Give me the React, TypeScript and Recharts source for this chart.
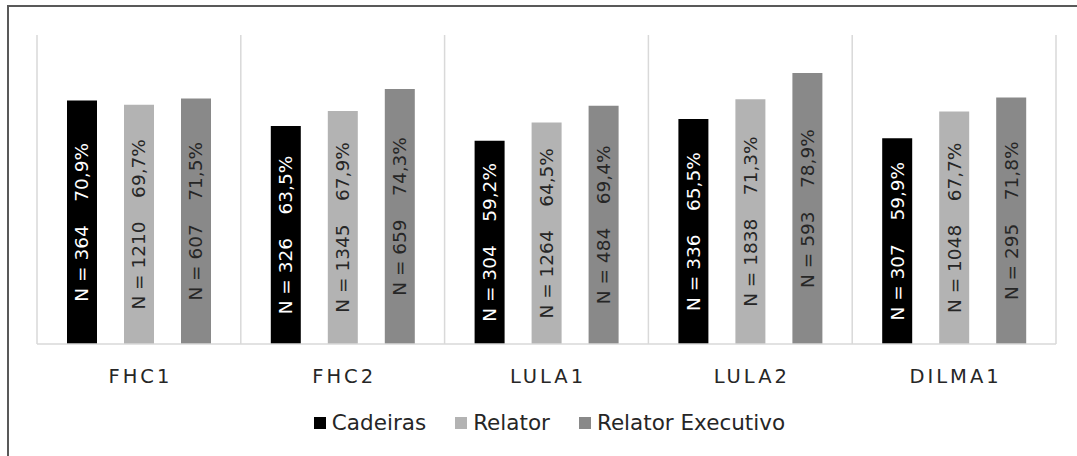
import React from 'react';
import { BarChart, Bar, XAxis, YAxis, CartesianGrid, LabelList } from 'recharts';

const categories = ['FHC1', 'FHC2', 'LULA1', 'LULA2', 'DILMA1'];
const cadeirasPct = [70.9, 63.5, 59.2, 65.5, 59.9];
const relatorPct = [69.7, 67.9, 64.5, 71.3, 67.7];
const executivoPct = [71.5, 74.3, 69.4, 78.9, 71.8];
const cadeirasN = [364, 326, 304, 336, 307];
const relatorN = [1210, 1345, 1264, 1838, 1048];
const executivoN = [607, 659, 484, 593, 295];

const series = [
  { key: 'cadeiras', name: 'Cadeiras', color: '#000000', text: '#ffffff' },
  { key: 'relator', name: 'Relator', color: '#b3b3b3', text: '#262626' },
  { key: 'executivo', name: 'Relator Executivo', color: '#898989', text: '#262626' },
];

const FONT = '"DejaVu Sans", Verdana, sans-serif';

const fmt = (n: number, p: number) => `N = ${n}    ${p.toFixed(1).replace('.', ',')}%`;

const data = categories.map((name, i) => ({
  name,
  cadeiras: cadeirasPct[i],
  relator: relatorPct[i],
  executivo: executivoPct[i],
  cadeirasLabel: fmt(cadeirasN[i], cadeirasPct[i]),
  relatorLabel: fmt(relatorN[i], relatorPct[i]),
  executivoLabel: fmt(executivoN[i], executivoPct[i]),
}));

const barLabel = (fill: string) => (props: any) => {
  const { x, y, width, height, value } = props;
  const cx = x + width / 2;
  const cy = y + height / 2;
  return (
    <text
      x={cx}
      y={cy}
      transform={`rotate(-90 ${cx} ${cy})`}
      textAnchor="middle"
      dominantBaseline="central"
      fill={fill}
      fontSize={18.5}
      fontFamily={FONT}
      style={{ whiteSpace: 'pre' }}
    >
      {value}
    </text>
  );
};

const CategoryTick = (props: any) => {
  const { x, y, payload } = props;
  return (
    <text
      x={x}
      y={y + 31}
      dx={1.5}
      textAnchor="middle"
      fill="#262626"
      fontSize={19.5}
      fontFamily={FONT}
      letterSpacing={3}
    >
      {payload.value}
    </text>
  );
};

export default function App() {
  return (
    <div style={{ position: 'absolute', left: 0, top: 0, width: 1077, height: 456, overflow: 'hidden', background: '#fff' }}>
      <div
        style={{
          position: 'absolute',
          left: 7,
          top: 5,
          width: 1120,
          height: 500,
          borderLeft: '2px solid #595959',
          borderTop: '2px solid #595959',
        }}
      />
      <div style={{ position: 'absolute', left: 0, top: 0 }}>
        <BarChart
          width={1077}
          height={456}
          data={data}
          margin={{ top: 35, right: 21, left: 37, bottom: 72 }}
          barSize={30}
          barGap={27}
        >
          <CartesianGrid
            horizontal={false}
            stroke="#d9d9d9"
            strokeWidth={1.5}
            verticalCoordinatesGenerator={({ offset }: any) =>
              categories.map((_, i) => offset.left + (i * offset.width) / categories.length).concat(offset.left + offset.width)
            }
          />
          <XAxis
            dataKey="name"
            axisLine={{ stroke: '#d9d9d9', strokeWidth: 1.5 }}
            tickLine={false}
            height={40}
            tick={<CategoryTick />}
            interval={0}
          />
          <YAxis hide domain={[0, 90]} />
          {series.map((s) => (
            <Bar key={s.key} dataKey={s.key} name={s.name} fill={s.color} isAnimationActive={false}>
              <LabelList dataKey={`${s.key}Label`} content={barLabel(s.text)} />
            </Bar>
          ))}
        </BarChart>
      </div>
      <div
        style={{
          position: 'absolute',
          left: 0,
          width: 1128,
          top: 410,
          display: 'flex',
          justifyContent: 'center',
          fontFamily: FONT,
          fontSize: 21.5,
          color: '#262626',
        }}
      >
        {series.map((s) => (
          <div key={s.key} style={{ display: 'flex', alignItems: 'center', marginRight: 29 }}>
            <span style={{ display: 'inline-block', width: 12, height: 12, background: s.color, marginRight: 6 }} />
            <span>{s.name}</span>
          </div>
        ))}
      </div>
    </div>
  );
}
